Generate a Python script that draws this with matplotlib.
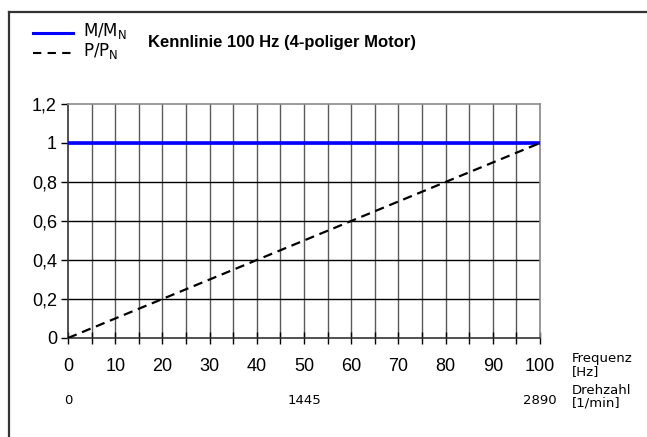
import matplotlib
matplotlib.use("Agg")
import matplotlib.pyplot as plt
from matplotlib.lines import Line2D

plt.rcParams['font.family'] = ['Liberation Sans', 'DejaVu Sans']

# Frequency axis [Hz] and normalised torque / power curves
frequency_hz = [0, 100]
torque_ratio = [1.0, 1.0]      # M/M_N
power_ratio = [0.0, 1.0]       # P/P_N

x_ticks = list(range(0, 101, 10))
x_minor = list(range(0, 101, 5))
y_ticks = [0, 0.2, 0.4, 0.6, 0.8, 1.0, 1.2]
y_labels = ['0', '0,2', '0,4', '0,6', '0,8', '1', '1,2']

speed_freqs = [0, 50, 100]
speed_labels = ['0', '1445', '2890']

title = 'Kennlinie 100 Hz (4-poliger Motor)'

fig = plt.figure(figsize=(6.47, 4.37), dpi=100)
ax = fig.add_axes([68 / 647, 1 - 338 / 437, 472 / 647, 234 / 437])

ax.set_xlim(0, 100)
ax.set_ylim(0, 1.2)

# grid
for x in x_minor[1:]:
    ax.axvline(x, color='#5a5a5a', lw=1.0, zorder=1)
for y in y_ticks[1:-1]:
    ax.axhline(y, color='black', lw=1.0, zorder=1)

ax.plot(frequency_hz, torque_ratio, color='#0000ff', lw=2.6, zorder=3,
        solid_capstyle='butt')
ax.plot(frequency_hz, power_ratio, color='black', lw=1.6, zorder=3,
        linestyle=(0, (4.2, 2.6)))

ax.set_xticks(x_ticks)
ax.set_xticks(x_minor, minor=True)
ax.set_xticklabels([str(v) for v in x_ticks], fontsize=13)
ax.set_yticks(y_ticks)
ax.set_yticklabels(y_labels, fontsize=13)

ax.tick_params(axis='x', which='both', direction='inout', length=9, width=1,
               pad=10)
ax.tick_params(axis='y', which='both', direction='out', length=5, width=1,
               pad=3)

for side in ('left', 'bottom'):
    ax.spines[side].set_color('#333333')
    ax.spines[side].set_linewidth(1.2)
for side in ('top', 'right'):
    ax.spines[side].set_color('#8a8a8a')
    ax.spines[side].set_linewidth(1.2)

# secondary speed scale below the frequency axis
for f, lab in zip(speed_freqs, speed_labels):
    ax.annotate(lab, xy=(f, 0), xycoords=('data', 'axes fraction'),
                xytext=(0, -63), textcoords='offset pixels',
                ha='center', va='center', fontsize=9.5,
                family=['DejaVu Sans'])

fig.text(572 / 647, 1 - 365 / 437, 'Frequenz\n[Hz]', ha='left', va='center',
         fontsize=9.5, family=['DejaVu Sans'], linespacing=1.0)
fig.text(572 / 647, 1 - 397 / 437, 'Drehzahl\n[1/min]', ha='left', va='center',
         fontsize=9.5, family=['DejaVu Sans'], linespacing=1.0)

# title and legend entries
fig.text(148 / 647, 1 - 42 / 437, title, ha='left', va='center',
         fontsize=12, fontweight='bold')

fig.add_artist(Line2D([33 / 647, 73 / 647], [1 - 33 / 437, 1 - 33 / 437],
                      color='#0000ff', lw=2.2, transform=fig.transFigure))
fig.add_artist(Line2D([33 / 647, 73 / 647], [1 - 53 / 437, 1 - 53 / 437],
                      color='black', lw=1.5, linestyle=(0, (4, 3)),
                      transform=fig.transFigure))
fig.text(83 / 647, 1 - 31 / 437, r'M/M$_\mathregular{N}$', ha='left',
         va='center', fontsize=12, family=['DejaVu Sans'])
fig.text(83 / 647, 1 - 51 / 437, r'P/P$_\mathregular{N}$', ha='left',
         va='center', fontsize=12, family=['DejaVu Sans'])

# outer frame (top and left edges)
fig.add_artist(Line2D([9 / 647, 1.0], [1 - 12 / 437, 1 - 12 / 437],
                      color='#333333', lw=1.6, transform=fig.transFigure))
fig.add_artist(Line2D([9 / 647, 9 / 647], [0, 1 - 12 / 437],
                      color='#333333', lw=1.6, transform=fig.transFigure))

fig.savefig('out.png', dpi=100)
